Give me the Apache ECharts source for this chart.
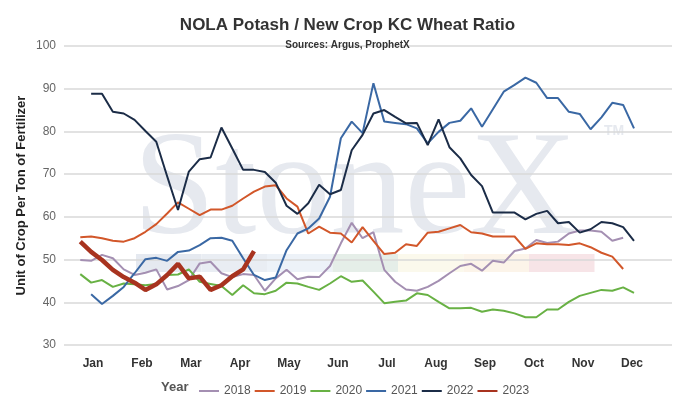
<!DOCTYPE html>
<html>
<head>
<meta charset="utf-8">
<script src="https://cdn.jsdelivr.net/npm/echarts@6/dist/echarts.min.js"></script>
<style>
html,body{margin:0;padding:0;background:#fff;}
#chart{width:695px;height:406px;}
</style>
</head>
<body>
<div id="chart"></div>
<script>
// ---- data (weekly ratios) ----
const months = ['Jan','Feb','Mar','Apr','May','Jun','Jul','Aug','Sep','Oct','Nov','Dec'];
const years = ['2018','2019','2020','2021','2022','2023'];

const start2018 = 1;
const y2018 = [49.9,49.7,51.1,50.3,47.7,46.4,46.9,47.7,43.0,43.8,
               45.2,49.1,49.5,46.8,45.9,46.6,46.4,42.7,45.6,47.6,
               45.4,46.0,45.9,48.5,53.8,58.6,55.0,56.4,47.6,44.8,
               43.0,42.7,43.6,45.0,46.8,48.5,49.0,47.4,49.7,49.3,
               52.0,52.6,54.6,53.9,54.2,56.1,56.8,56.8,56.5,54.4,55.1];

const start2019 = 1;
const y2019 = [55.2,55.4,55.0,54.4,54.2,55.0,56.5,58.3,60.8,63.4,
               61.9,60.4,61.7,61.7,62.6,64.3,65.9,67.1,67.4,64.3,
               62.4,56.1,57.7,56.3,56.1,54.0,57.6,54.4,51.3,51.6,
               53.6,53.2,56.3,56.5,57.3,58.1,56.4,56.1,55.4,55.4,
               55.4,52.5,53.8,53.6,53.6,53.4,53.8,52.9,51.6,50.7,47.8];

const start2020 = 1;
const y2020 = [46.6,44.6,45.2,43.6,44.4,44.2,44.0,44.3,46.4,46.5,
               47.7,44.8,44.3,43.8,41.7,44.0,42.1,41.9,42.7,44.6,
               44.4,43.6,42.9,44.4,46.1,44.8,45.1,42.5,39.8,40.1,
               40.4,42.1,41.7,40.1,38.6,38.6,38.7,37.8,38.3,38.0,
               37.4,36.5,36.5,38.3,38.3,40.1,41.5,42.2,42.9,42.7,43.5,42.2];

const start2021 = 2;
const y2021 = [41.9,39.6,41.5,43.6,46.8,50.1,50.4,49.7,51.8,
               52.1,53.4,55.0,55.1,54.4,50.3,46.4,45.2,45.8,52.2,
               56.1,57.3,59.6,64.7,78.4,82.3,79.6,91.3,82.3,82.0,
               81.7,80.7,77.2,79.9,82.0,82.5,85.4,81.1,85.2,89.3,
               90.9,92.6,91.4,87.8,87.8,84.6,84.1,80.5,83.3,86.7,86.2,80.7];

const start2022 = 2;
const y2022 = [88.8,88.8,84.6,84.2,82.7,80.1,77.6,69.5,61.6,
               70.6,73.5,73.9,80.9,76.0,71.0,71.0,70.5,68.0,62.6,
               60.7,63.2,67.5,65.3,66.3,75.6,79.2,84.2,85.0,83.4,
               81.9,82.0,76.8,82.8,76.3,73.7,69.8,67.2,61.0,61.0,
               61.0,59.4,60.7,61.4,58.5,58.8,56.3,57.1,58.8,58.5,57.6,54.4];

const start2023 = 1;
const y2023 = [54.2,51.8,49.9,47.6,45.9,44.6,42.9,44.2,46.4,49.0,
               45.6,46.0,42.9,44.0,46.1,47.7,52.0];

const yTicks = [30,40,50,60,70,80,90,100];

// ---- build ----
function pts(start, arr){ return arr.map((v,i)=>[start+i, v]); }

const seriesDefs = [
  {name:'2018', start:start2018, vals:y2018, color:'#a48fb2', width:2},
  {name:'2019', start:start2019, vals:y2019, color:'#d2572a', width:2},
  {name:'2020', start:start2020, vals:y2020, color:'#68b144', width:2},
  {name:'2021', start:start2021, vals:y2021, color:'#3a68a4', width:2},
  {name:'2022', start:start2022, vals:y2022, color:'#1b2c47', width:2},
  {name:'2023', start:start2023, vals:y2023, color:'#a8331f', width:4.5}
];

const chart = echarts.init(document.getElementById('chart'), null, {renderer:'canvas'});

const bandColors = ['#e5e9f0','#e9edf3','#edf2f8','#e5eee8','#fbf9ec','#fcf4e9','#f7e4e7'];
const bandEls = bandColors.map((c,i)=>({
  type:'rect', z:-2,
  shape:{x:136+i*65.5, y:254, width:65.5, height:18},
  style:{fill:c}
}));

chart.setOption({
  animation:false,
  backgroundColor:'#ffffff',
  title:{
    text:'NOLA Potash / New Crop KC Wheat Ratio',
    subtext:'Sources: Argus, ProphetX',
    left:'center', top:12, itemGap:6,
    textStyle:{fontFamily:'Liberation Sans', fontSize:17, fontWeight:'bold', color:'#333333'},
    subtextStyle:{fontFamily:'Liberation Sans', fontSize:10, fontWeight:'bold', color:'#333333'}
  },
  graphic:[
    {type:'text', z:-1, left:133, top:120,
     style:{text:'StoneX', font:'148px "Liberation Serif"', fill:'#e6e9ef'}},
    {type:'text', z:-1, left:604, top:124,
     style:{text:'TM', font:'bold 14px "Liberation Sans"', fill:'#e6e9ef'}},
    ...bandEls,
    {type:'text', left:161, top:381,
     style:{text:'Year', font:'bold 13px "Liberation Sans"', fill:'#555555'}}
  ],
  legend:{
    data:years,
    left:194, top:380,
    icon:'rect', itemWidth:20, itemHeight:2, itemGap:4,
    textStyle:{fontFamily:'Liberation Sans', fontSize:12, color:'#555555'}
  },
  grid:[
    {left:64, right:23, top:46, bottom:61},
    {left:68.5, right:38.5, top:46, bottom:61}
  ],
  xAxis:[
    {type:'value', gridIndex:0, min:-0.5, max:55.5,
     axisLine:{show:false}, axisTick:{show:false}, axisLabel:{show:false}, splitLine:{show:false}},
    {type:'category', gridIndex:1, data:months, boundaryGap:true,
     axisLine:{show:false}, axisTick:{show:false},
     axisLabel:{margin:13, fontFamily:'Liberation Sans', fontSize:12, fontWeight:'bold', color:'#333333'},
     splitLine:{show:false}}
  ],
  yAxis:[
    {type:'value', gridIndex:0, min:yTicks[0], max:yTicks[yTicks.length-1], interval:10,
     name:'Unit of Crop Per Ton of Fertilizer', nameLocation:'middle', nameGap:36,
     nameMoveOverlap:false,
     nameTextStyle:{fontFamily:'Liberation Sans', fontSize:13, fontWeight:'bold', color:'#222222'},
     axisLine:{show:false}, axisTick:{show:false},
     axisLabel:{margin:8, fontFamily:'Liberation Sans', fontSize:12, color:'#666666'},
     splitLine:{lineStyle:{color:'#d9d9d9', width:1.5}}},
    {type:'value', gridIndex:1, show:false, min:0, max:1}
  ],
  series: seriesDefs.map(s=>({
    name:s.name, type:'line', xAxisIndex:0, yAxisIndex:0,
    data:pts(s.start, s.vals),
    symbol:'none', color:s.color,
    lineStyle:{color:s.color, width:s.width},
    z: s.name==='2023' ? 5 : 3
  }))
});
</script>
</body>
</html>
